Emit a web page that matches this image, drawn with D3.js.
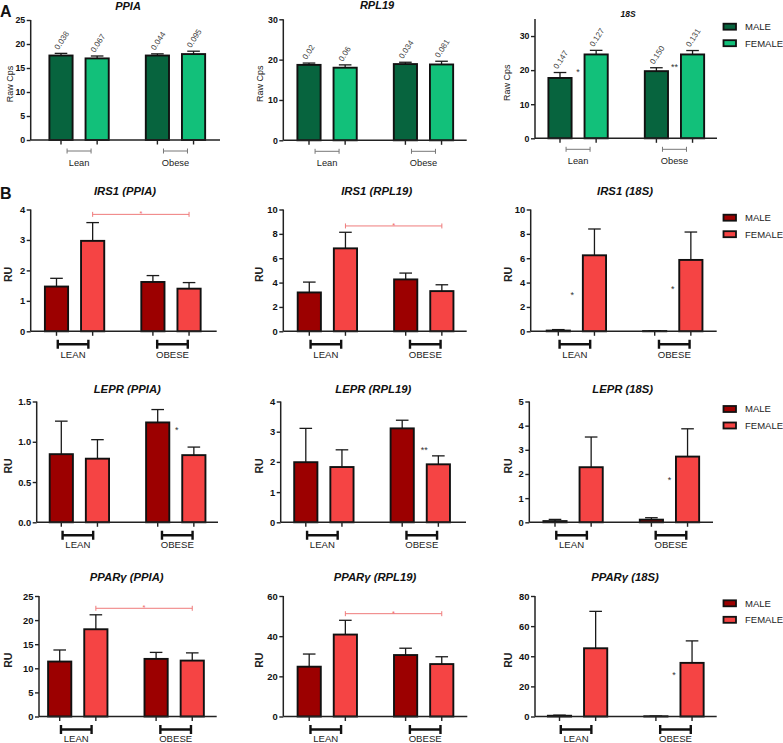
<!DOCTYPE html>
<html><head><meta charset="utf-8">
<script src="https://cdn.jsdelivr.net/npm/d3@7"></script>
<style>body{margin:0;background:#fff} svg{display:block;font-family:"Liberation Sans",Arial,sans-serif}</style>
</head><body><svg id="c" width="783" height="743"></svg>
<script>
// ---------- DATA ----------
const positions = [1, 2.5, 5, 6.5];           // Male-Lean, Female-Lean, Male-Obese, Female-Obese
const sexes = ["MALE", "FEMALE"];
const groupsA = ["Lean", "Obese"];
const groupsB = ["LEAN", "OBESE"];

const titlesA = ["PPIA", "RPL19", "18S"];
const rawMean = [[17.6, 17.0, 17.6, 17.9], [18.7, 18.0, 18.9, 18.8], [17.7, 24.6, 19.7, 24.6]];
const rawSem  = [[0.45, 0.5, 0.35, 0.6], [0.45, 0.7, 0.45, 0.8], [1.6, 1.2, 1.0, 1.15]];
const rawCv   = [["0.038", "0.067", "0.044", "0.095"], ["0.02", "0.06", "0.034", "0.081"], ["0.147", "0.127", "0.150", "0.131"]];
const rawMax  = [25, 30, 35];
const rawTicks = [[0, 5, 10, 15, 20, 25], [0, 10, 20, 30], [0, 10, 20, 30]];
const rawStars = [[], [], [{grp: 0, v: 19.9, t: "*"}, {grp: 1, v: 21.4, t: "**"}]];

const genes = ["IRS1", "LEPR", "PPARγ"];
const refs = ["PPIA", "RPL19", "18S"];
const ruMean = [
  [[1.47, 2.97, 1.62, 1.40], [3.19, 6.81, 4.26, 3.30], [0.06, 6.24, 0.02, 5.86]],
  [[0.846, 0.79, 1.24, 0.834], [1.99, 1.83, 3.11, 1.92], [0.05, 2.28, 0.11, 2.72]],
  [[11.4, 18.1, 11.95, 11.6], [24.8, 40.8, 30.6, 26.1], [0.5, 45.3, 0.15, 35.6]]
];
const ruSem = [
  [[0.27, 0.6, 0.21, 0.2], [0.85, 1.32, 0.52, 0.52], [0.08, 2.16, 0.03, 2.29]],
  [[0.41, 0.236, 0.16, 0.10], [1.12, 0.57, 0.27, 0.28], [0.07, 1.25, 0.08, 1.15]],
  [[2.4, 3.0, 1.35, 1.6], [6.3, 7.1, 3.4, 3.65], [0.4, 24.5, 0.15, 14.6]]
];
const ruMax = [[4, 10, 10], [1.5, 4, 5], [25, 60, 80]];
const ruTicks = [
  [[0, 1, 2, 3, 4], [0, 2, 4, 6, 8, 10], [0, 2, 4, 6, 8, 10]],
  [[0, 0.5, 1.0, 1.5], [0, 1, 2, 3, 4], [0, 1, 2, 3, 4, 5]],
  [[0, 5, 10, 15, 20, 25], [0, 20, 40, 60], [0, 20, 40, 60, 80]]
];
// significance: red bracket between female lean & female obese (value = height)
const ruSig = [[3.84, 8.65, null], [null, null, null], [22.45, 51.2, null]];
const ruStars = [
  [[], [], [{grp: 0, v: 3.1, t: "*", dx: -4}, {grp: 1, v: 3.6, t: "*", dx: 0}]],
  [[{grp: 1, v: 1.16, t: "*", dx: 1}], [{grp: 1, v: 2.46, t: "**", dx: 4}], [{grp: 1, v: 1.81, t: "*", dx: 0}]],
  [[], [], [{grp: 1, v: 28.5, t: "*", dx: 0}]]
];

// ---------- LAYOUT ----------
const U = 24.1, BW = 23.2;
const colorsA = ["#07643e", "#12c07a"];
const colorsB = ["#9c0000", "#f54444"];
const layoutA = [
  {x0: 30.7, c0: 61, x1: 220, yt: 20, yb: 140, tx: 128, ty: 10, tf: 11, lx: 13},
  {x0: 283.3, c0: 309, x1: 466.7, yt: 19.3, yb: 140.3, tx: 377, ty: 8.8, tf: 11, lx: 263},
  {x0: 535, c0: 560, x1: 717, yt: 19, yb: 138.3, tx: 628, ty: 17, tf: 8.5, lx: 510}
];
const rowsB = [
  {yt: 209.5, yb: 331.3, ty: 195, legY: 217.7, lab: 26.5},
  {yt: 401.5, yb: 522.3, ty: 393.3, legY: 409, lab: 25.5},
  {yt: 596, yb: 716.5, ty: 580.8, legY: 603.3, lab: 25.8}
];
const colsB = [
  [{x0: 30.7, c0: 56.5, x1: 216.7, tx: 125}, {x0: 283.3, c0: 309.3, x1: 466.7, tx: 376.7}, {x0: 530.7, c0: 558.3, x1: 716.7, tx: 625}],
  [{x0: 36.7, c0: 61.3, x1: 218, tx: 127.3}, {x0: 280.7, c0: 305.8, x1: 466, tx: 373.3}, {x0: 529.3, c0: 555, x1: 713, tx: 622.7}],
  [{x0: 39, c0: 59.7, x1: 216.7, tx: 126.7}, {x0: 283.3, c0: 309.2, x1: 467.3, tx: 375}, {x0: 535, c0: 559.5, x1: 716.7, tx: 625}]
];
const labelXB = [12, 263, 511.5];

const svg = d3.select("#c");

function panel(o) {
  const g = svg.append("g");
  const y = d3.scaleLinear().domain([0, o.max]).range([o.yb, o.yt]);
  const x = d3.scaleLinear().domain([1, 6.5]).range([o.c0, o.c0 + 5.5 * U]);
  const cols = o.colors;
  // error bars (upper only)
  o.mean.forEach((m, i) => {
    const cx = x(positions[i]), top = y(m + o.sem[i]);
    g.append("line").attr("x1", cx).attr("x2", cx).attr("y1", y(m)).attr("y2", top)
      .attr("stroke", "#1a1a1a").attr("stroke-width", 1.3);
    g.append("line").attr("x1", cx - 6.3).attr("x2", cx + 6.3).attr("y1", top).attr("y2", top)
      .attr("stroke", "#1a1a1a").attr("stroke-width", 1.3);
  });
  // bars
  g.selectAll("rect.bar").data(o.mean).join("rect").attr("class", "bar")
    .attr("x", (d, i) => x(positions[i]) - BW / 2).attr("width", BW)
    .attr("y", d => y(d)).attr("height", d => y(0) - y(d))
    .attr("fill", (d, i) => cols[i % 2]).attr("stroke", "#111").attr("stroke-width", 1.9);
  // y axis
  const ax = g.append("g").attr("transform", `translate(${o.x0},0)`)
    .call(d3.axisLeft(y).tickValues(o.ticks).tickSize(4).tickSizeOuter(0)
      .tickFormat(o.fmt || d3.format("d")));
  ax.select(".domain").attr("stroke", "#222").attr("stroke-width", 1.5)
    .attr("d", `M0,${o.yb}V${o.yt}`);
  ax.selectAll(".tick line").attr("stroke", "#222").attr("stroke-width", 1.4);
  ax.selectAll(".tick text").attr("fill", "#111").attr("font-size", o.tickFont)
    .attr("font-weight", "bold").attr("x", -5.5).attr("font-family", "Liberation Sans, Arial, sans-serif");
  // x axis
  g.append("line").attr("x1", o.x0).attr("x2", o.x1).attr("y1", o.yb).attr("y2", o.yb)
    .attr("stroke", "#222").attr("stroke-width", 1.5);
  positions.forEach(p => {
    g.append("line").attr("x1", x(p)).attr("x2", x(p)).attr("y1", o.yb).attr("y2", o.yb + 4.5)
      .attr("stroke", "#222").attr("stroke-width", 1.4);
  });
  // group brackets & labels
  o.groups.forEach((name, gi) => {
    const mid = (x(positions[gi * 2]) + x(positions[gi * 2 + 1])) / 2 + (o.bold ? (gi ? 1.5 : -1.5) : 0);
    const hw = o.bold ? 15.3 : 12, th = o.bold ? 4.5 : 2.5;
    const by = o.yb + (o.bold ? 13 : 11);
    g.append("path").attr("d", `M${mid - hw},${by - th}V${by + th}M${mid - hw},${by}H${mid + hw}M${mid + hw},${by - th}V${by + th}`)
      .attr("fill", "none").attr("stroke", o.bold ? "#111" : "#777").attr("stroke-width", o.bold ? 2.4 : 1);
    g.append("text").attr("x", mid).attr("y", o.yb + o.lab).attr("text-anchor", "middle")
      .attr("font-size", o.bold ? 9.6 : 9.3).attr("fill", "#222").text(name);
  });
  // title
  g.append("text").attr("x", o.tx).attr("y", o.ty).attr("text-anchor", "middle")
    .attr("font-size", o.tf).attr("font-weight", "bold").attr("font-style", "italic").attr("fill", "#111").text(o.title);
  // y label
  g.append("text").attr("transform", `translate(${o.lx},${(o.yt + o.yb) / 2 + 4}) rotate(-90)`)
    .attr("text-anchor", "middle").attr("font-size", o.labelFont).attr("font-weight", o.bold ? "bold" : "normal")
    .attr("fill", "#222").text(o.ylabel);
  // CV labels
  if (o.cv) o.cv.forEach((t, i) => {
    const cx = x(positions[i]), top = y(o.mean[i] + o.sem[i]);
    g.append("text").attr("transform", `translate(${cx - 2.5},${top - 3}) rotate(-57)`)
      .attr("font-size", 8).attr("fill", "#444").text(t);
  });
  // black stars
  o.stars.forEach(s => {
    const mid = (x(positions[s.grp * 2]) + x(positions[s.grp * 2 + 1])) / 2 + (s.dx || 0);
    g.append("text").attr("x", mid).attr("y", y(s.v) + 4.5).attr("text-anchor", "middle")
      .attr("font-size", 9).attr("fill", "#333").text(s.t);
  });
  // red significance bracket
  if (o.sig != null) {
    const x1 = x(positions[1]), x2 = x(positions[3]), ys = y(o.sig);
    g.append("path").attr("d", `M${x1},${ys - 2.5}V${ys + 2.5}M${x1},${ys}H${x2}M${x2},${ys - 2.5}V${ys + 2.5}`)
      .attr("fill", "none").attr("stroke", "#ef7b7b").attr("stroke-width", 1);
    g.append("text").attr("x", (x1 + x2) / 2).attr("y", ys + 2).attr("text-anchor", "middle")
      .attr("font-size", 7.5).attr("fill", "#ef6b6b").text("*");
  }
}

function legend(yc, colors) {
  const g = svg.append("g");
  sexes.forEach((s, i) => {
    const yy = yc + i * 16.5;
    g.append("rect").attr("x", 723.5).attr("y", yy - 3).attr("width", 12.5).attr("height", 6)
      .attr("fill", colors[i]).attr("stroke", "#111").attr("stroke-width", 1.8);
    g.append("text").attr("x", 745).attr("y", yy + 3.4).attr("font-size", 9.5).attr("fill", "#222").text(s);
  });
}

// Panel A
layoutA.forEach((L, k) => panel({
  ...L, title: titlesA[k], mean: rawMean[k], sem: rawSem[k], max: rawMax[k], ticks: rawTicks[k],
  colors: colorsA, groups: groupsA, bold: false, ylabel: "Raw Cps", labelFont: 9, tickFont: 8.8, lab: 25.5,
  cv: rawCv[k], stars: rawStars[k], sig: null
}));
legend(26.7, colorsA);

// Panel B
rowsB.forEach((R, r) => {
  colsB[r].forEach((C, c) => panel({
    ...C, yt: R.yt, yb: R.yb, ty: R.ty, tf: 11.3, lx: labelXB[c], lab: R.lab,
    title: `${genes[r]} (${refs[c]})`, mean: ruMean[r][c], sem: ruSem[r][c], max: ruMax[r][c], ticks: ruTicks[r][c],
    fmt: r === 1 && c === 0 ? d3.format(".1f") : d3.format("d"),
    colors: colorsB, groups: groupsB, bold: true, ylabel: "RU", labelFont: 10.5, tickFont: 9.4,
    cv: null, stars: ruStars[r][c], sig: ruSig[r][c]
  }));
  legend(R.legY, colorsB);
});

// panel letters
svg.append("text").attr("x", 0).attr("y", 17).attr("font-size", 16).attr("font-weight", "bold").attr("fill", "#111").text("A");
svg.append("text").attr("x", 0).attr("y", 198.5).attr("font-size", 16).attr("font-weight", "bold").attr("fill", "#111").text("B");
</script></body></html>
